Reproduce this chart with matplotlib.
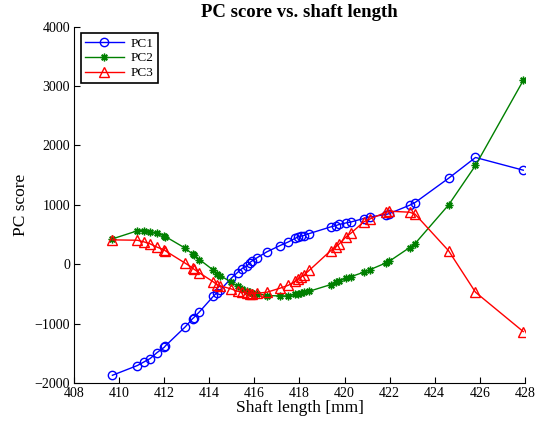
import matplotlib
matplotlib.use("Agg")
import matplotlib.pyplot as plt

# shaft lengths [mm], shared by all three PCs
shaft = [409.70, 410.80, 411.10, 411.37, 411.68, 412.00, 412.05, 412.93, 413.26, 413.30,
         413.56, 414.18, 414.33, 414.48, 414.97, 415.25, 415.45, 415.69, 415.79, 415.88,
         416.13, 416.55, 417.14, 417.51, 417.82, 417.94, 418.06, 418.19, 418.44, 419.39,
         419.63, 419.75, 420.08, 420.30, 420.85, 421.14, 421.84, 421.99, 422.89, 423.13,
         424.62, 425.81, 427.93]

pc1 = [-1871, -1708, -1646, -1590, -1489, -1399, -1376, -1056, -916, -904,
       -803, -539, -483, -438, -236, -140, -73, -22, 28, 51,
       112, 208, 315, 376, 438, 461, 472, 483, 517, 629,
       652, 669, 697, 713, 770, 798, 837, 854, 994, 1039,
       1449, 1798, 1584]

pc2 = [427, 562, 567, 551, 522, 478, 466, 270, 169, 157,
       79, -101, -157, -191, -303, -371, -416, -455, -472, -483,
       -494, -528, -534, -534, -506, -494, -483, -472, -455, -343,
       -303, -287, -230, -208, -135, -90, 22, 51, 281, 348,
       1000, 1663, 3096]

pc3 = [410, 404, 376, 343, 287, 242, 225, 17, -62, -79,
       -146, -298, -343, -365, -416, -455, -472, -483, -494, -494,
       -489, -472, -404, -354, -287, -247, -219, -185, -101, 230,
       298, 337, 466, 528, 713, 764, 876, 893, 876, 843,
       225, -472, -1135]

xticks = list(range(408, 429, 2))
yticks = list(range(-2000, 4001, 1000))

plt.rcParams['font.family'] = ['Liberation Serif', 'DejaVu Serif']
plt.rcParams['axes.unicode_minus'] = True

fig = plt.figure(figsize=(5.45, 4.25), dpi=100)
ax = fig.add_axes([0.136, 0.099, 0.827, 0.838])

ax.plot(shaft, pc1, color=(0, 0, 1), lw=1, marker='o', ms=6, mfc='none', mew=1, label='PC1')
ax.plot(shaft, pc2, color=(0, 0.5, 0), lw=1, marker=(8, 2, 0), ms=5.5, mew=1, label='PC2')
ax.plot(shaft, pc3, color=(1, 0, 0), lw=1, marker='^', ms=6.5, mfc='none', mew=1, label='PC3')

ax.set_xlim(408, 428)
ax.set_ylim(-2000, 4000)
ax.set_xticks(xticks)
ax.set_yticks(yticks)
ax.tick_params(direction='in', length=4, width=0.8, labelsize=10, pad=3)
for s in ['top', 'right']:
    ax.spines[s].set_visible(False)

ax.set_xlabel('Shaft length [mm]', fontsize=12.5, labelpad=0)
ax.set_ylabel('PC score', fontsize=12.5, labelpad=4)
ax.set_title('PC score vs. shaft length', fontsize=13.5, fontweight='bold', pad=7)

leg = ax.legend(loc='upper left', fontsize=9.5, fancybox=False, framealpha=1,
                edgecolor='black', borderaxespad=0.5, handlelength=3.0,
                labelspacing=0.2, borderpad=0.3, handletextpad=0.5)
leg.get_frame().set_linewidth(1.2)

fig.savefig('out.png', dpi=100)
